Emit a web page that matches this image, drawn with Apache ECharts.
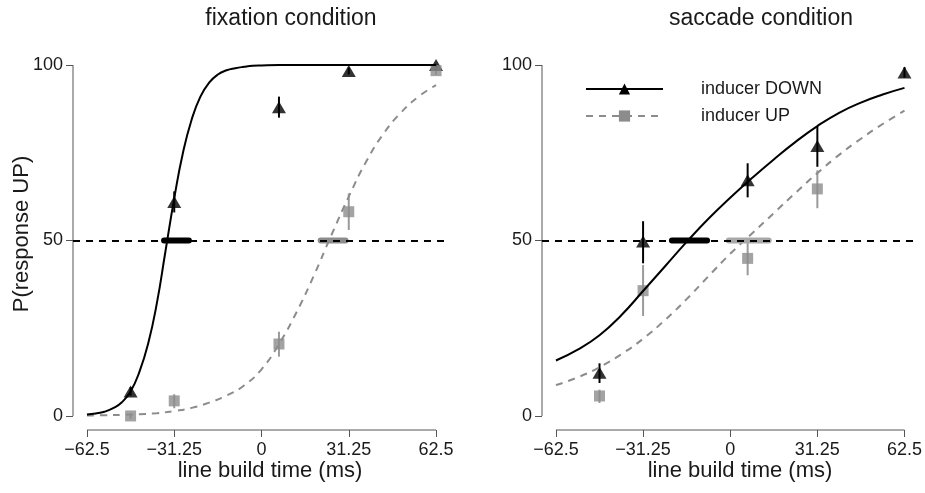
<!DOCTYPE html>
<html>
<head>
<meta charset="utf-8">
<script src="https://cdn.jsdelivr.net/npm/echarts@6/dist/echarts.min.js"></script>
<style>html,body{margin:0;padding:0;background:#fff}#c{width:925px;height:493px}</style>
</head>
<body>
<div id="c"></div>
<script>
// ---------- data ----------
const xTicks = [-62.5, -31.25, 0, 31.25, 62.5];
const yTicks = [0, 50, 100];
const xRange = [-67.5, 67.5];
const yRange = [-4, 104];
const criterion = 50;

// fixation condition: observed points
const fixX = [-46.875, -31.25, 6.25, 31.25, 62.5];
const fixDown = [7, 61, 88, 98.3, 100];
const fixDownLo = [5.8, 58, 85, 97.3, 99.2];
const fixDownHi = [8.2, 64, 91, 99.3, 100];
const fixUp = [0, 4.3, 20.5, 58.2, 98.4];
const fixUpLo = [-0.8, 2.2, 16.9, 53, 97.2];
const fixUpHi = [0.8, 6.2, 24, 63.4, 99.6];
// fixation fitted curves
const fixDownCurveX = [-62.5, -59.375, -56.25, -53.125, -50, -46.875, -43.75, -40.625, -37.5, -34.375, -31.25, -28.125, -25, -21.875, -18.75, -15.625, -12.5, -9.375, -6.25, -3.125, 0, 6.25, 12.5, 18.75, 25, 31.25, 37.5, 43.75, 50, 56.25, 62.5];
const fixDownCurve = [0.4, 0.7, 1.2, 2.2, 3.9, 7, 12.5, 20.5, 32, 47, 62, 75, 84.5, 91, 95, 97.3, 98.5, 99.1, 99.5, 99.8, 99.9, 100, 100, 100, 100, 100, 100, 100, 100, 100, 100];
const fixUpCurveX = [-62.5, -56.25, -50, -43.75, -37.5, -31.25, -25, -18.75, -12.5, -6.25, 0, 6.25, 12.5, 18.75, 25, 31.25, 37.5, 43.75, 50, 56.25, 62.5];
const fixUpCurve = [0.1, 0.2, 0.3, 0.5, 0.8, 1.4, 2.3, 3.8, 5.8, 8.7, 13.3, 20.5, 29.5, 40, 51.5, 62.5, 72.5, 80.5, 86.5, 91, 94.3];
// fixation PSE intervals
const fixPseDown = [-34.9, -26];
const fixPseUp = [21.2, 30.1];

// saccade condition: observed points
const sacDownX = [-46.875, -31.25, 6.25, 31.25, 62.5];
const sacDown = [12.3, 49.7, 67.2, 76.9, 97.9];
const sacDownLo = [9.4, 43.5, 62.3, 71, 96.4];
const sacDownHi = [15, 55.5, 72, 82.6, 99.4];
const sacUpX = [-46.875, -31.25, 6.25, 31.25];
const sacUp = [5.7, 35.7, 44.9, 64.7];
const sacUpLo = [3.7, 28.5, 40.1, 59.2];
const sacUpHi = [7.5, 43, 49.5, 70];
// saccade fitted curves
const sacCurveX = [-62.5, -54.6875, -46.875, -39.0625, -31.25, -23.4375, -15.625, -7.8125, 0, 7.8125, 15.625, 23.4375, 31.25, 39.0625, 46.875, 54.6875, 62.5];
const sacDownCurve = [15.8, 18.9, 23.0, 28.7, 35.6, 42.6, 49.6, 56.2, 62.2, 67.8, 73.1, 78.1, 82.6, 86.4, 89.3, 91.6, 93.5];
const sacUpCurve = [8.8, 11.0, 13.9, 17.6, 22.0, 27.3, 33.3, 39.8, 46.2, 52.0, 57.8, 63.6, 69.2, 74.4, 79.0, 83.2, 87.0];
const sacPseDown = [-20.9, -8.3];
const sacPseUp = [-0.5, 13.8];

const titles = ['fixation condition', 'saccade condition'];
const xName = 'line build time (ms)';
const yName = 'P(response UP)';
const nameDown = 'inducer DOWN';
const nameUp = 'inducer UP';

// ---------- styles ----------
const FONT = '"Liberation Sans", Arial, Helvetica, sans-serif';
const TXT = '#1a1a1a';
const AX = '#555';
const GRAY = '#8c8c8c';
const GRAY_BAR = '#9a9a9a';
const DASH = [7, 6];

const zip = (xs, ys) => xs.map((x, i) => [x, ys[i]]);
const zip3 = (xs, a, b) => xs.map((x, i) => [x, a[i], b[i]]);
const fmt = v => (v < 0 ? '\u2212' + Math.abs(v) : String(v));

function errSeries(idx, data, color) {
  return {
    type: 'custom', xAxisIndex: idx, yAxisIndex: idx, silent: true,
    encode: { x: 0, y: [1, 2] },
    data: data,
    renderItem: function (params, api) {
      const p1 = api.coord([api.value(0), api.value(1)]);
      const p2 = api.coord([api.value(0), api.value(2)]);
      return { type: 'line', shape: { x1: p1[0], y1: p1[1], x2: p2[0], y2: p2[1] },
               style: { stroke: color, lineWidth: 2 } };
    }
  };
}

function panel(idx, d) {
  return [
    { name: nameUp, type: 'line', xAxisIndex: idx, yAxisIndex: idx, data: d.upCurve,
      smooth: true, showSymbol: false, symbol: 'rect', symbolSize: 11,
      itemStyle: { color: GRAY }, lineStyle: { color: GRAY, width: 2, type: DASH }, silent: true,
      markLine: { silent: true, symbol: 'none', label: { show: false },
        lineStyle: { color: '#000', width: 2, type: DASH }, data: [{ yAxis: criterion }] } },
    { name: nameDown, type: 'line', xAxisIndex: idx, yAxisIndex: idx, data: d.downCurve,
      smooth: true, showSymbol: false, symbol: 'triangle', symbolSize: 12,
      itemStyle: { color: '#000' }, lineStyle: { color: '#000', width: 2, type: 'solid' }, silent: true },
    { name: 'pseDown' + idx, type: 'line', xAxisIndex: idx, yAxisIndex: idx,
      data: d.pseDown.map(x => [x, criterion]), showSymbol: false, silent: true,
      lineStyle: { color: '#000', width: 6, cap: 'round' } },
    { name: 'pseUp' + idx, type: 'line', xAxisIndex: idx, yAxisIndex: idx,
      data: d.pseUp.map(x => [x, criterion]), showSymbol: false, silent: true,
      lineStyle: { color: d.pseUpColor, width: 6, cap: 'round' } },
    errSeries(idx, d.downErr, '#000'),
    { name: 'ptsDown' + idx, type: 'scatter', xAxisIndex: idx, yAxisIndex: idx, data: d.downPts,
      symbol: 'triangle', symbolSize: [14, 12], itemStyle: { color: '#000' }, silent: true },
    errSeries(idx, d.upErr, GRAY_BAR),
    { name: 'ptsUp' + idx, type: 'scatter', xAxisIndex: idx, yAxisIndex: idx, data: d.upPts,
      symbol: 'rect', symbolSize: 11, itemStyle: { color: GRAY }, silent: true },
    { name: 'xline' + idx, type: 'line', xAxisIndex: idx, yAxisIndex: idx, clip: false,
      data: [[xTicks[0], yRange[0]], [xTicks[xTicks.length - 1], yRange[0]]],
      showSymbol: false, silent: true, lineStyle: { color: AX, width: 1 } },
    { name: 'yline' + idx, type: 'line', xAxisIndex: idx, yAxisIndex: idx, clip: false,
      data: [[xRange[0], yTicks[0]], [xRange[0], yTicks[yTicks.length - 1]]],
      showSymbol: false, silent: true, lineStyle: { color: AX, width: 1 } }
  ];
}

const series = [].concat(
  panel(0, {
    upCurve: zip(fixUpCurveX, fixUpCurve), downCurve: zip(fixDownCurveX, fixDownCurve),
    pseDown: fixPseDown, pseUp: fixPseUp, pseUpColor: GRAY,
    downErr: zip3(fixX, fixDownLo, fixDownHi), downPts: zip(fixX, fixDown),
    upErr: zip3(fixX, fixUpLo, fixUpHi), upPts: zip(fixX, fixUp)
  }),
  panel(1, {
    upCurve: zip(sacCurveX, sacUpCurve), downCurve: zip(sacCurveX, sacDownCurve),
    pseDown: sacPseDown, pseUp: sacPseUp, pseUpColor: '#a8a8a8',
    downErr: zip3(sacDownX, sacDownLo, sacDownHi), downPts: zip(sacDownX, sacDown),
    upErr: zip3(sacUpX, sacUpLo, sacUpHi), upPts: zip(sacUpX, sacUp)
  })
);

function xAxis(idx) {
  return { type: 'value', gridIndex: idx, min: xRange[0], max: xRange[1], position: 'bottom',
    axisLine: { show: false, onZero: false }, splitLine: { show: false },
    axisTick: { show: true, customValues: xTicks, length: 7, lineStyle: { color: AX, width: 1 } },
    axisLabel: { customValues: xTicks, formatter: fmt, margin: 11, fontSize: 18, fontFamily: FONT, color: TXT } };
}
function yAxis(idx) {
  return { type: 'value', gridIndex: idx, min: yRange[0], max: yRange[1], position: 'left',
    axisLine: { show: false, onZero: false }, splitLine: { show: false },
    axisTick: { show: true, customValues: yTicks, length: 7, lineStyle: { color: AX, width: 1 } },
    axisLabel: { customValues: yTicks, margin: 10, fontSize: 18, fontFamily: FONT, color: TXT } };
}

const txt = (text, x, y, size, rot) => ({
  type: 'text', x: x, y: y, rotation: rot || 0, silent: true,
  style: { text: text, fontSize: size, fontFamily: FONT, fill: TXT, align: 'center', verticalAlign: 'middle' }
});

const chart = echarts.init(document.getElementById('c'), null, { renderer: 'canvas' });
chart.setOption({
  animation: false,
  backgroundColor: '#fff',
  grid: [
    { left: 73, top: 51, width: 377, height: 379 },
    { left: 542, top: 51, width: 377, height: 379 }
  ],
  xAxis: [xAxis(0), xAxis(1)],
  yAxis: [yAxis(0), yAxis(1)],
  legend: {
    data: [nameDown, nameUp], orient: 'vertical', left: 585, top: 80, padding: 0,
    itemWidth: 77, itemHeight: 14, itemGap: 9, selectedMode: false,
    formatter: n => '{t|' + n + '}',
    textStyle: { rich: { t: { padding: [0, 0, 0, 33], fontSize: 18, fontFamily: FONT, color: TXT } } }
  },
  graphic: [
    txt(titles[0], 291, 19, 23),
    txt(titles[1], 761, 19, 23),
    txt(xName, 270, 471, 22),
    txt(xName, 740, 471, 22),
    txt(yName, 22, 234, 22, Math.PI / 2)
  ],
  series: series
});
</script>
</body>
</html>
